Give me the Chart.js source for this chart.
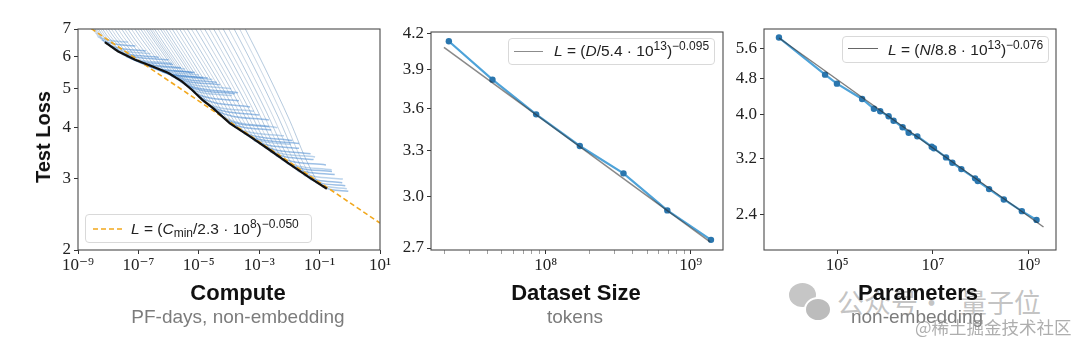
<!DOCTYPE html>
<html>
<head>
<meta charset="utf-8">
<script src="https://cdn.jsdelivr.net/npm/chart.js@4.4.1/dist/chart.umd.min.js"></script>
<style>
  body { margin: 0; background: #fff; }
  #wrap { position: relative; width: 1080px; height: 344px; overflow: hidden; font-family: "Liberation Sans", Arial, sans-serif; }
  canvas { position: absolute; left: 0; top: 0; }
  .t { position: absolute; white-space: nowrap; transform: translateX(-50%); line-height: 1; }
  .main { font-weight: bold; font-size: 22px; color: #111; }
  .sub { font-size: 19px; color: #7c7c7c; }
  .leg { position: absolute; box-sizing: border-box; border: 1px solid #d9d9d9; border-radius: 4px; background: rgba(255,255,255,0.85); }
  .smp { position: absolute; height: 0; }
  .lt { position: absolute; white-space: nowrap; font-size: 15.5px; line-height: 15px; color: #222; }
  .lt sup, .lt sub { font-size: 12px; line-height: 0; }
  .lt sup { vertical-align: 6px; }
  .lt sub { vertical-align: -3px; }
  .wm { position: absolute; white-space: nowrap; font-family: "Noto Sans CJK SC", sans-serif; line-height: 1; }
  .bub { position: absolute; border-radius: 50%; }
</style>
</head>
<body>
<div id="wrap">
  <!-- watermark sits under the axis titles -->
  <div class="bub" style="left:789px;top:283px;width:27px;height:24px;background:#c6c6c6"></div>
  <div class="bub" style="left:804px;top:297px;width:24px;height:21px;background:#bcbcbc;border:2px solid #fff"></div>
  <div class="wm" style="left:837px;top:288px;font-size:27px;color:rgba(180,180,180,0.8)">公众号</div>
  <div class="wm" style="left:918px;top:288px;font-size:27px;color:rgba(180,180,180,0.8)">·</div>
  <div class="wm" style="left:960px;top:288px;font-size:27px;color:rgba(180,180,180,0.8)">量子位</div>

  <canvas id="c1" width="1080" height="344"></canvas>
  <canvas id="c2" width="1080" height="344"></canvas>
  <canvas id="c3" width="1080" height="344"></canvas>

  <div class="t main" style="left:43px;top:137px;font-size:20px;transform:translate(-50%,-50%) rotate(-90deg)">Test Loss</div>

  <div class="t main" style="left:238px;top:282px">Compute</div>
  <div class="t sub" style="left:238px;top:307px">PF-days, non-embedding</div>
  <div class="t main" style="left:576px;top:282px">Dataset Size</div>
  <div class="t sub" style="left:575px;top:307px">tokens</div>
  <div class="t main" style="left:918px;top:282px">Parameters</div>
  <div class="t sub" style="left:917px;top:307px">non-embedding</div>

  <div class="wm" style="left:915px;top:318px;font-size:17.5px;color:rgba(140,140,140,0.7)">@稀土掘金技术社区</div>

  <div class="leg" style="left:85px;top:214px;width:227px;height:29px">
    <svg style="position:absolute;left:7px;top:10px" width="30" height="8">
      <line x1="0" y1="4" x2="30" y2="4" stroke="#f2a81d" stroke-width="1.7" stroke-dasharray="5,3"/>
    </svg>
    <div class="lt" style="left:45px;top:6px"><i>L</i> = (<i>C</i><sub>min</sub>/2.3 · 10<sup>8</sup>)<sup>−0.050</sup></div>
  </div>
  <div class="leg" style="left:508px;top:38px;width:207px;height:27px">
    <div class="smp" style="left:5px;top:12px;width:29px;border-top:1.6px solid #8c8c8c"></div>
    <div class="lt" style="left:45px;top:4px"><i>L</i> = (<i>D</i>/5.4 · 10<sup>13</sup>)<sup>−0.095</sup></div>
  </div>
  <div class="leg" style="left:842px;top:36px;width:207px;height:27px">
    <div class="smp" style="left:5px;top:11px;width:30px;border-top:1.4px solid #666"></div>
    <div class="lt" style="left:45px;top:5px"><i>L</i> = (<i>N</i>/8.8 · 10<sup>13</sup>)<sup>−0.076</sup></div>
  </div>
</div>

<script>
// ---- Compute panel ----
// training runs: log10 of compute (PF-days) and test loss along each curve
const runLog10C = [
  [-8.55, -8.48, -8.42, -8.37, -8.34, -7.34],
  [-8.53, -8.42, -8.33, -8.26, -8.21, -7.10],
  [-8.51, -8.36, -8.24, -8.15, -8.07, -6.75],
  [-8.46, -8.29, -8.14, -8.03, -7.94, -6.60],
  [-8.41, -8.22, -8.04, -7.91, -7.81, -6.32],
  [-8.35, -8.14, -7.93, -7.79, -7.68, -6.00],
  [-8.29, -8.05, -7.82, -7.67, -7.54, -5.89],
  [-8.20, -7.94, -7.70, -7.53, -7.40, -5.85],
  [-8.11, -7.83, -7.57, -7.39, -7.25, -5.59],
  [-8.01, -7.72, -7.44, -7.25, -7.10, -5.45],
  [-7.91, -7.60, -7.31, -7.11, -6.95, -5.13],
  [-7.80, -7.48, -7.18, -6.97, -6.80, -5.20],
  [-7.69, -7.35, -7.05, -6.82, -6.65, -4.99],
  [-7.59, -7.24, -6.92, -6.68, -6.50, -4.70],
  [-7.48, -7.12, -6.78, -6.54, -6.35, -4.86],
  [-7.37, -7.00, -6.65, -6.40, -6.20, -4.55],
  [-7.26, -6.87, -6.51, -6.26, -6.05, -4.40],
  [-7.17, -6.76, -6.39, -6.12, -5.91, -4.30],
  [-7.08, -6.65, -6.26, -5.98, -5.76, -3.93],
  [-7.00, -6.55, -6.14, -5.84, -5.61, -3.70],
  [-6.92, -6.44, -6.01, -5.70, -5.46, -3.80],
  [-6.86, -6.35, -5.90, -5.57, -5.31, -3.90],
  [-6.79, -6.26, -5.78, -5.43, -5.16, -3.67],
  [-6.73, -6.17, -5.65, -5.28, -5.00, -3.30],
  [-6.66, -6.07, -5.52, -5.13, -4.83, -3.17],
  [-6.57, -5.95, -5.39, -4.98, -4.67, -3.00],
  [-6.48, -5.83, -5.25, -4.83, -4.50, -2.68],
  [-6.40, -5.73, -5.12, -4.68, -4.34, -2.40],
  [-6.31, -5.62, -4.98, -4.52, -4.17, -2.68],
  [-6.21, -5.50, -4.84, -4.37, -4.00, -2.60],
  [-6.11, -5.37, -4.70, -4.22, -3.83, -2.18],
  [-5.99, -5.24, -4.55, -4.06, -3.67, -1.90],
  [-5.87, -5.10, -4.40, -3.90, -3.50, -1.68],
  [-5.75, -4.97, -4.25, -3.74, -3.34, -1.95],
  [-5.62, -4.83, -4.10, -3.58, -3.17, -1.68],
  [-5.49, -4.68, -3.94, -3.41, -2.99, -1.30],
  [-5.35, -4.52, -3.77, -3.23, -2.81, -1.15],
  [-5.21, -4.37, -3.61, -3.06, -2.63, -1.20],
  [-5.06, -4.21, -3.44, -2.88, -2.44, -0.79],
  [-4.91, -4.05, -3.27, -2.71, -2.26, -0.60],
  [-4.76, -3.89, -3.10, -2.53, -2.08, -0.59],
  [-4.61, -3.73, -2.93, -2.35, -1.90, -0.50],
  [-4.45, -3.56, -2.76, -2.17, -1.72, -0.23],
  [-4.27, -3.38, -2.57, -1.98, -1.52, -0.25],
  [-4.09, -3.19, -2.37, -1.78, -1.32, -0.15],
  [-3.91, -3.00, -2.18, -1.59, -1.12, -0.10],
  [-3.72, -2.81, -1.98, -1.39, -0.92, -0.05]
];
const runLoss = [
  [7.14, 6.93, 6.85, 6.78, 6.70, 6.50],
  [7.15, 6.90, 6.77, 6.67, 6.57, 6.36],
  [7.16, 6.87, 6.69, 6.55, 6.44, 6.18],
  [7.17, 6.84, 6.63, 6.46, 6.34, 6.08],
  [7.18, 6.81, 6.56, 6.37, 6.24, 5.96],
  [7.19, 6.79, 6.51, 6.30, 6.15, 5.88],
  [7.20, 6.76, 6.46, 6.22, 6.06, 5.76],
  [7.21, 6.74, 6.41, 6.16, 5.99, 5.72],
  [7.21, 6.72, 6.36, 6.09, 5.92, 5.62],
  [7.22, 6.70, 6.32, 6.03, 5.86, 5.58],
  [7.23, 6.68, 6.28, 5.97, 5.79, 5.47],
  [7.24, 6.67, 6.24, 5.92, 5.73, 5.46],
  [7.24, 6.65, 6.20, 5.87, 5.67, 5.39],
  [7.25, 6.63, 6.17, 5.82, 5.62, 5.30],
  [7.25, 6.61, 6.13, 5.77, 5.56, 5.30],
  [7.26, 6.60, 6.09, 5.72, 5.50, 5.26],
  [7.26, 6.58, 6.05, 5.66, 5.44, 5.17],
  [7.27, 6.56, 6.00, 5.59, 5.36, 5.10],
  [7.28, 6.53, 5.95, 5.52, 5.28, 4.99],
  [7.29, 6.51, 5.89, 5.44, 5.19, 4.88],
  [7.30, 6.48, 5.83, 5.36, 5.10, 4.85],
  [7.31, 6.44, 5.76, 5.26, 4.99, 4.80],
  [7.32, 6.40, 5.68, 5.16, 4.88, 4.66],
  [7.34, 6.36, 5.59, 5.04, 4.77, 4.50],
  [7.36, 6.32, 5.50, 4.92, 4.62, 4.39],
  [7.37, 6.29, 5.43, 4.83, 4.53, 4.30],
  [7.38, 6.25, 5.36, 4.74, 4.43, 4.18],
  [7.40, 6.21, 5.28, 4.64, 4.32, 4.00],
  [7.41, 6.17, 5.20, 4.54, 4.21, 4.02],
  [7.43, 6.14, 5.13, 4.46, 4.12, 3.95],
  [7.44, 6.10, 5.06, 4.37, 4.02, 3.82],
  [7.45, 6.07, 5.01, 4.30, 3.95, 3.72],
  [7.46, 6.04, 4.95, 4.23, 3.87, 3.66],
  [7.47, 6.02, 4.90, 4.16, 3.80, 3.64],
  [7.48, 5.99, 4.84, 4.09, 3.72, 3.56],
  [7.50, 5.96, 4.78, 4.02, 3.65, 3.45],
  [7.51, 5.92, 4.72, 3.94, 3.57, 3.39],
  [7.53, 5.89, 4.66, 3.87, 3.49, 3.34],
  [7.54, 5.86, 4.60, 3.79, 3.41, 3.24],
  [7.55, 5.83, 4.54, 3.72, 3.34, 3.15],
  [7.56, 5.79, 4.48, 3.65, 3.27, 3.12],
  [7.58, 5.76, 4.43, 3.59, 3.20, 3.07],
  [7.59, 5.73, 4.37, 3.52, 3.13, 2.99],
  [7.61, 5.70, 4.31, 3.46, 3.06, 2.93],
  [7.62, 5.67, 4.25, 3.39, 2.99, 2.88],
  [7.63, 5.64, 4.20, 3.33, 2.93, 2.83],
  [7.64, 5.61, 4.15, 3.27, 2.87, 2.79]
];
// compute-efficient frontier (black)
const frontierLog10C = [-8.11, -7.68, -7.11, -6.55, -6.02, -5.56, -5.23, -4.89, -4.53, -3.97, -3.31, -2.64, -1.98, -1.32, -0.76];
const frontierLoss   = [6.50, 6.17, 5.88, 5.67, 5.46, 5.20, 4.96, 4.69, 4.47, 4.10, 3.81, 3.52, 3.25, 3.01, 2.83];
// power-law fit end points, L = (Cmin / 2.3e8)^-0.050
const computeFitC    = [1e-9, 1e1];
const computeFitLoss = [7.38, 2.33];

const computeTicks = [1e-9, 1e-7, 1e-5, 1e-3, 1e-1, 1e1];
const computeTickText = ['10⁻⁹', '10⁻⁷', '10⁻⁵', '10⁻³', '10⁻¹', '10¹'];
const computeLossTicks = [2, 3, 4, 5, 6, 7];
const computeLossText = ['2', '3', '4', '5', '6', '7'];

// ---- Dataset size panel ----
const tokens     = [2.15e7, 4.3e7, 8.6e7, 1.72e8, 3.44e8, 6.9e8, 1.38e9];
const tokensLoss = [4.137, 3.822, 3.558, 3.333, 3.150, 2.918, 2.746];
const tokensFitD    = [1.99e7, 1.36e9];
const tokensFitLoss = [4.085, 2.735];
const tokenTicks = [2e7, 3e7, 4e7, 5e7, 6e7, 7e7, 8e7, 9e7, 1e8, 2e8, 3e8, 4e8, 5e8, 6e8, 7e8, 8e8, 9e8, 1e9];
const tokenTickText = ['', '', '', '', '', '', '', '', '10⁸', '', '', '', '', '', '', '', '', '10⁹'];
const tokenLossTicks = [2.7, 3.0, 3.3, 3.6, 3.9, 4.2];
const tokenLossText = ['2.7', '3.0', '3.3', '3.6', '3.9', '4.2'];

// ---- Parameters panel ----
const params = [6.1e3, 5.6e4, 9.9e4, 3.33e5, 5.86e5, 7.94e5, 1.19e6, 1.51e6, 2.33e6, 3.12e6, 4.72e6,
                9.44e6, 1.05e7, 1.88e7, 2.55e7, 3.93e7, 7.6e7, 8.65e7, 1.49e8, 3.03e8, 7.21e8, 1.46e9];
const paramsLoss = [5.934, 4.908, 4.687, 4.333, 4.123, 4.068, 3.965, 3.877, 3.748, 3.646, 3.579,
                    3.393, 3.366, 3.213, 3.126, 3.026, 2.886, 2.846, 2.732, 2.591, 2.440, 2.333];
const paramsFitN    = [6.12e3, 2.04e9];
const paramsFitLoss = [5.92, 2.25];
const paramTicks = [1e5, 1e7, 1e9];
const paramTickText = ['10⁵', '10⁷', '10⁹'];
const paramLossTicks = [2.4, 3.2, 4.0, 4.8, 5.6];
const paramLossText = ['2.4', '3.2', '4.0', '4.8', '5.6'];

const pts = (xs, ys) => xs.map((x, i) => ({ x, y: ys[i] }));

// box round the plot area (all four spines)
const frame = {
  id: 'frame',
  afterDatasetsDraw(chart) {
    const { ctx, chartArea: a } = chart;
    ctx.save();
    ctx.strokeStyle = '#4a4a4a';
    ctx.lineWidth = 1.1;
    ctx.strokeRect(a.left, a.top, a.right - a.left, a.bottom - a.top);
    ctx.restore();
  }
};

function axis(vals, text, min, max, isX, size) {
  return {
    type: 'logarithmic',
    min, max,
    afterBuildTicks: s => { s.ticks = vals.map((v, i) => ({ value: v, major: text[i] !== '' })); },
    afterFit: s => { if (isX) s.height = size; else s.width = size; },
    border: { display: false },
    grid: {
      drawOnChartArea: false,
      drawTicks: true,
      tickLength: 4,
      tickColor: c => (c.tick && c.tick.major) ? '#333' : '#777',
      tickWidth: c => (c.tick && c.tick.major) ? 1 : 0.7
    },
    ticks: {
      autoSkip: false, maxRotation: 0, minRotation: 0,
      padding: isX ? 1 : 3,
      color: '#222',
      font: { family: '"Liberation Serif", "DejaVu Serif", serif', size: 17 },
      callback: (v, i) => text[i]
    }
  };
}

// area = [left, right, top, bottom] of the plot box in page pixels
function panel(id, area, xAxis, yAxis, datasets) {
  return new Chart(document.getElementById(id), {
    type: 'line',
    data: { datasets },
    options: {
      responsive: false,
      animation: false,
      devicePixelRatio: 1,
      layout: { padding: { left: 0, right: 1080 - area[1], top: area[2], bottom: 0 } },
      plugins: { legend: { display: false }, tooltip: { enabled: false } },
      elements: { point: { radius: 0 } },
      scales: {
        x: axis(xAxis.vals, xAxis.text, xAxis.min, xAxis.max, true, 344 - area[3]),
        y: axis(yAxis.vals, yAxis.text, yAxis.min, yAxis.max, false, area[0])
      }
    },
    plugins: [frame]
  });
}

// learning curves: grey-blue on the way down, bluer once they flatten out
const runSets = runLog10C.map((lc, r) => ({
  data: pts(lc.map(v => 10 ** v), runLoss[r]),
  borderWidth: 1,
  borderColor: r % 2 ? 'rgba(135,165,195,0.45)' : 'rgba(110,150,190,0.5)',
  segment: {
    borderColor: c => c.p0DataIndex >= 4 ? (r % 3 ? 'rgba(60,130,205,0.5)' : 'rgba(90,150,210,0.42)') : undefined,
    borderWidth: c => c.p0DataIndex >= 4 ? 1.5 : undefined
  },
  cubicInterpolationMode: 'monotone',
  order: 2
}));

panel('c1', [78, 380, 29, 250],
  { vals: computeTicks, text: computeTickText, min: 1e-9, max: 1e1 },
  { vals: computeLossTicks, text: computeLossText, min: 2, max: 7 },
  [
    {
      data: pts(frontierLog10C.map(v => 10 ** v), frontierLoss),
      borderColor: '#111', borderWidth: 2.2, order: 0
    },
    {
      data: pts(computeFitC, computeFitLoss),
      borderColor: '#f2a81d', borderWidth: 1.6, borderDash: [5, 3], order: 1
    },
    ...runSets
  ]);

panel('c2', [431, 723, 32, 250],
  { vals: tokenTicks, text: tokenTickText, min: 1.62e7, max: 1.67e9 },
  { vals: tokenLossTicks, text: tokenLossText, min: 2.689, max: 4.217 },
  [
    {
      data: pts(tokensFitD, tokensFitLoss),
      borderColor: 'rgba(40,40,40,0.55)', borderWidth: 1.5, order: 0
    },
    {
      data: pts(tokens, tokensLoss),
      borderColor: '#4ea3d9', borderWidth: 2.2,
      pointRadius: 3.2, pointBackgroundColor: '#2a76ae', pointBorderWidth: 0, order: 1
    }
  ]);

panel('c3', [764, 1056, 29, 250],
  { vals: paramTicks, text: paramTickText, min: 2.97e3, max: 3.72e9 },
  { vals: paramLossTicks, text: paramLossText, min: 2.0, max: 6.2 },
  [
    {
      data: pts(paramsFitN, paramsFitLoss),
      borderColor: 'rgba(40,40,40,0.6)', borderWidth: 1.4, order: 0
    },
    {
      data: pts(params, paramsLoss),
      borderColor: '#4ea3d9', borderWidth: 2.2,
      pointRadius: 3.2, pointBackgroundColor: '#2a76ae', pointBorderWidth: 0, order: 1
    }
  ]);
</script>
</body>
</html>
